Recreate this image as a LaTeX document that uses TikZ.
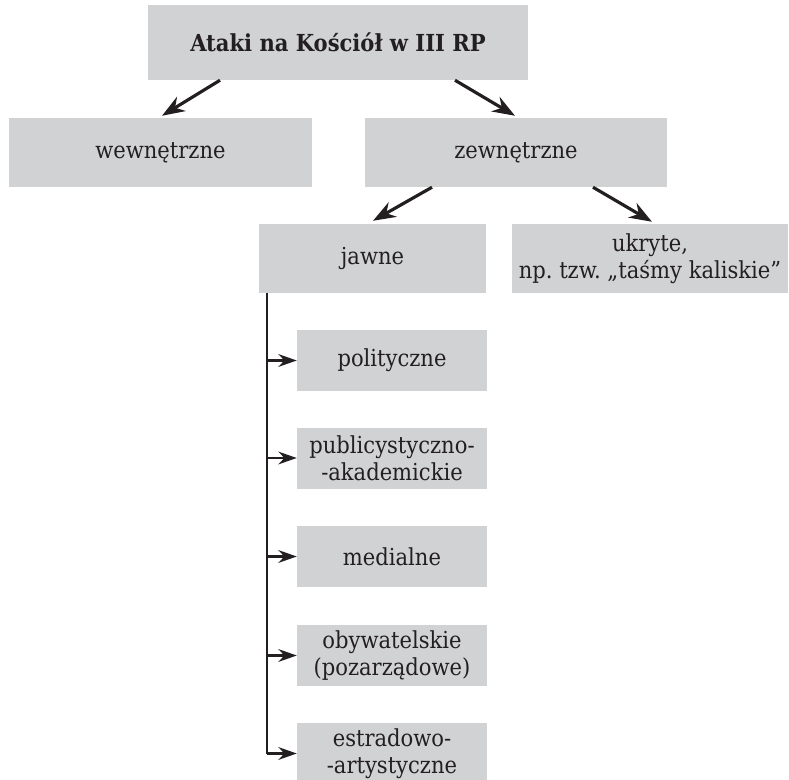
\documentclass[tikz,border=0pt]{standalone}
\usepackage{fontspec}
\setmainfont{DejaVu Serif Condensed}
\usetikzlibrary{calc,arrows.meta}
\definecolor{boxgray}{HTML}{D1D2D4}
\definecolor{ink}{HTML}{231F20}
\frenchspacing
\tikzset{
  box/.style={fill=boxgray, text=ink, align=center, inner sep=0pt, font=\fontsize{20}{23}\selectfont},
  arr/.style={draw=ink, line width=0.95mm, -{Stealth[length=6.8mm,width=5mm]}},
  trunkline/.style={draw=ink, line width=0.7mm}
}
\begin{document}
\begin{tikzpicture}[x=0.3mm,y=-0.3mm]
\useasboundingbox (0,0) rectangle (789,780);
\node[box, minimum width=380*0.3mm, minimum height=75*0.3mm, font=\fontsize{20}{23}\selectfont\bfseries] (top) at (338,42.5) {Ataki na Kościół w III RP};
\node[box, minimum width=303*0.3mm, minimum height=69*0.3mm] (wew) at (160.5,152.5) {wewnętrzne};
\node[box, minimum width=302*0.3mm, minimum height=69*0.3mm] (zew) at (516,152.5) {zewnętrzne};
\node[box, minimum width=227*0.3mm, minimum height=69*0.3mm] (jawne) at (372.5,258.5) {jawne};
\node[box, minimum width=276*0.3mm, minimum height=69*0.3mm] (ukryte) at (650,258.5) {ukryte,\\np. tzw. „taśmy kaliskie”};
% podtypy jawnych
\node[box, minimum width=190*0.3mm, minimum height=61*0.3mm] (pol) at (392,360.5) {polityczne};
\node[box, minimum width=190*0.3mm, minimum height=61*0.3mm] (pub) at (392,458) {publicystyczno-\\-akademickie};
\node[box, minimum width=190*0.3mm, minimum height=61*0.3mm] (med) at (392,556.5) {medialne};
\node[box, minimum width=190*0.3mm, minimum height=61*0.3mm] (oby) at (392,655.5) {obywatelskie\\(pozarządowe)};
\node[box, minimum width=190*0.3mm, minimum height=61*0.3mm] (est) at (392,753.5) {estradowo-\\-artystyczne};
% strzalki
\draw[arr] ($(top.south)+(-118,0)$) -- ($(wew.north)+(1.5,-2)$);
\draw[arr] ($(top.south)+(117,0)$) -- ($(zew.north)+(-1,-2)$);
\draw[arr] ($(zew.south)+(-84,0)$) -- ($(jawne.north)+(0.5,-3)$);
\draw[arr] ($(zew.south)+(77,0)$) -- ($(ukryte.north)+(2,-2)$);
\coordinate (trunk) at ($(jawne.south west)+(8,0)$);
\draw[trunkline] (trunk) -- (trunk |- est.west);
\foreach \n in {pol,pub,med,oby,est}
  \draw[arr, line width=0.7mm, -{Stealth[length=5.5mm,width=3.8mm]}] (trunk |- \n.west) -- (\n.west);
\end{tikzpicture}
\end{document}
